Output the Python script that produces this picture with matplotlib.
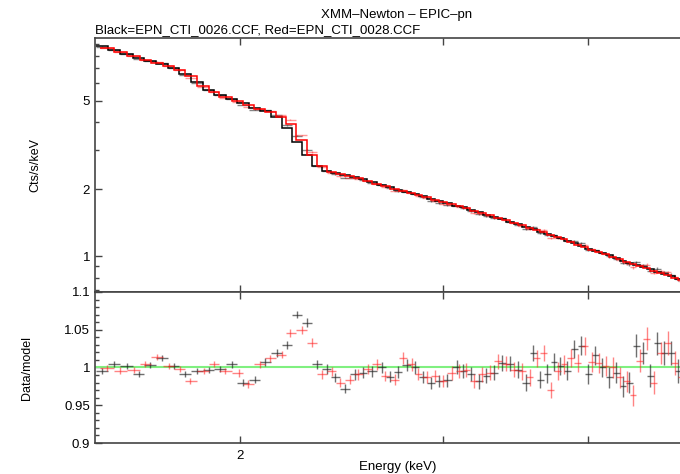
#! /usr/bin/env python3

## Libraries
import numpy as np
import matplotlib
matplotlib.use("Agg")
import matplotlib.pyplot as plt

plt.rcParams['font.family'] = ['Liberation Sans', 'DejaVu Sans']

#-----------------------------------------------------------------------
## Data
# Black = EPN_CTI_0026.CCF : bin centres (keV), model (cts/s/keV), data/model, error
black_e = [1.521, 1.558, 1.598, 1.637, 1.673, 1.714, 1.755, 1.794, 1.837, 1.881, 1.923, 1.969,
           2.013, 2.061, 2.103, 2.154, 2.197, 2.241, 2.286, 2.332, 2.379, 2.417, 2.465,
           2.515, 2.555, 2.601, 2.654, 2.696, 2.739, 2.789, 2.833, 2.879, 2.930, 2.977,
           3.025, 3.080, 3.117, 3.173, 3.218, 3.269, 3.321, 3.375, 3.429, 3.484,
           3.540, 3.589, 3.639, 3.690, 3.742, 3.787, 3.840, 3.893, 3.948,
           4.003, 4.060, 4.117, 4.174, 4.233, 4.292, 4.344, 4.405, 4.467,
           4.529, 4.593, 4.657, 4.722, 4.787, 4.854, 4.922]
black_model = [8.83, 8.47, 8.13, 7.79, 7.56, 7.33, 7.03, 6.61, 6.08, 5.59, 5.31, 5.10,
               4.89, 4.64, 4.50, 4.23, 3.77, 3.26, 2.85, 2.54, 2.41, 2.37, 2.32,
               2.27, 2.22, 2.15, 2.09, 2.05, 1.98, 1.94, 1.90, 1.86, 1.81, 1.77,
               1.73, 1.68, 1.66, 1.61, 1.58, 1.53, 1.50, 1.47, 1.42, 1.39,
               1.35, 1.32, 1.29, 1.26, 1.23, 1.20, 1.17, 1.14, 1.11,
               1.08, 1.05, 1.03, 1.01, 0.98, 0.955, 0.935, 0.91, 0.89,
               0.87, 0.85, 0.83, 0.81, 0.79, 0.77, 0.75]
black_ratio = [0.995, 1.005, 1.002, 0.992, 1.003, 1.013, 1.002, 0.991, 0.995, 0.997, 0.998, 1.004,
               0.980, 0.984, 1.007, 1.019, 1.030, 1.070, 1.059, 1.004, 0.998, 0.987, 0.972,
               0.991, 0.993, 0.995, 1.000, 0.988, 0.994, 1.003, 1.000, 0.988, 0.980, 0.982,
               0.983, 1.001, 0.995, 0.991, 0.982, 0.989, 0.993, 1.006, 1.005, 0.997,
               0.980, 1.019, 0.984, 0.992, 1.007, 1.002, 0.996, 1.024, 1.029,
               0.991, 1.016, 1.000, 0.987, 0.993, 0.975, 0.980, 1.029, 1.019,
               0.989, 1.032, 1.019, 1.019, 0.995, 1.010, 0.990]
black_err = [0.004, 0.004, 0.004, 0.004, 0.004, 0.004, 0.004, 0.004, 0.004, 0.004, 0.004, 0.005,
             0.005, 0.005, 0.005, 0.005, 0.005, 0.005, 0.006, 0.006, 0.006, 0.006, 0.006,
             0.007, 0.007, 0.007, 0.007, 0.007, 0.008, 0.008, 0.008, 0.008, 0.008, 0.008,
             0.009, 0.009, 0.009, 0.009, 0.010, 0.010, 0.010, 0.010, 0.010, 0.011,
             0.011, 0.011, 0.011, 0.012, 0.012, 0.012, 0.012, 0.012, 0.013,
             0.013, 0.013, 0.013, 0.014, 0.014, 0.014, 0.014, 0.015, 0.015,
             0.015, 0.015, 0.016, 0.016, 0.016, 0.017, 0.017]

# Red = EPN_CTI_0028.CCF
red_e = [1.536, 1.577, 1.621, 1.657, 1.697, 1.738, 1.776, 1.812, 1.863, 1.900, 1.942, 1.997,
         2.033, 2.082, 2.124, 2.175, 2.210, 2.263, 2.309, 2.355, 2.402, 2.441, 2.490,
         2.530, 2.581, 2.627, 2.670, 2.723, 2.767, 2.817, 2.850, 2.902, 2.948, 2.996,
         3.050, 3.098, 3.141, 3.192, 3.243, 3.295, 3.348, 3.402, 3.456,
         3.512, 3.564, 3.614, 3.665, 3.716, 3.768, 3.813, 3.867, 3.921, 3.976,
         4.031, 4.088, 4.145, 4.203, 4.262, 4.321, 4.373, 4.434, 4.496,
         4.559, 4.623, 4.688, 4.753, 4.820, 4.887, 4.956]
red_model = [8.65, 8.30, 7.96, 7.64, 7.40, 7.18, 6.89, 6.47, 5.83, 5.48, 5.20, 4.99,
             4.79, 4.59, 4.45, 4.23, 3.94, 3.33, 2.85, 2.54, 2.39, 2.34, 2.29,
             2.25, 2.18, 2.11, 2.07, 2.00, 1.96, 1.92, 1.88, 1.84, 1.79, 1.75,
             1.71, 1.68, 1.65, 1.59, 1.56, 1.53, 1.48, 1.45, 1.41,
             1.38, 1.34, 1.31, 1.28, 1.245, 1.215, 1.19, 1.155, 1.125, 1.095,
             1.065, 1.04, 1.02, 0.995, 0.97, 0.945, 0.925, 0.90, 0.88,
             0.86, 0.84, 0.82, 0.80, 0.78, 0.76, 0.74]
red_ratio = [0.999, 0.996, 0.997, 1.004, 1.014, 1.002, 0.998, 0.982, 0.995, 1.004, 0.995, 0.993,
             0.978, 1.004, 1.012, 1.017, 1.046, 1.050, 1.033, 0.991, 0.995, 0.980, 0.984,
             0.991, 0.998, 1.004, 0.989, 0.984, 1.012, 1.004, 0.991, 0.988, 0.989, 0.982,
             0.993, 0.995, 0.997, 0.982, 0.991, 0.993, 1.008, 1.005, 0.997,
             0.995, 0.987, 1.012, 1.019, 0.970, 0.995, 1.004, 1.013, 1.006, 1.028,
             1.007, 1.006, 1.002, 1.000, 0.987, 0.982, 0.963, 1.009, 1.038,
             0.980, 1.019, 1.032, 1.006, 0.987, 1.000, 1.010]
red_err = [0.004, 0.004, 0.004, 0.004, 0.004, 0.004, 0.004, 0.004, 0.004, 0.004, 0.004, 0.005,
           0.005, 0.005, 0.005, 0.005, 0.005, 0.005, 0.006, 0.006, 0.006, 0.006, 0.006,
           0.007, 0.007, 0.007, 0.007, 0.007, 0.008, 0.008, 0.008, 0.008, 0.008, 0.008,
           0.009, 0.009, 0.009, 0.009, 0.010, 0.010, 0.010, 0.010, 0.010,
           0.011, 0.011, 0.011, 0.011, 0.011, 0.012, 0.012, 0.012, 0.012, 0.012,
           0.013, 0.013, 0.013, 0.014, 0.014, 0.014, 0.014, 0.015, 0.015,
           0.015, 0.015, 0.016, 0.016, 0.016, 0.017, 0.017]

x_ticks = [2, 3, 4]
x_labels = ['2', '', '']
top_ticks = [1, 2, 5]
top_minor = [0.7, 0.8, 0.9, 3, 4, 6, 7, 8, 9]
ratio_ticks = [0.9, 0.95, 1.0, 1.05, 1.1]
ratio_labels = ['0.9', '0.95', '1', '1.05', '1.1']

#-----------------------------------------------------------------------
## Functions
def edges(e):
	'''
	list -> array
	
	Bin edges from bin centres (half-way between neighbours).
	'''
	e = np.asarray(e)
	mid = (e[:-1] + e[1:]) / 2
	return np.concatenate([[e[0] - (mid[0] - e[0])], mid, [e[-1] + (e[-1] - mid[-1])]])

def style(ax):
	for s in ax.spines.values():
		s.set_color('#444444')
		s.set_linewidth(1.2)
	ax.spines['right'].set_visible(False)
	ax.set_xscale('log')
	ax.set_xlim(1.5, 5.0)
	ax.set_xticks(x_ticks, labels=x_labels)
	ax.xaxis.set_minor_locator(plt.NullLocator())
	ax.tick_params(which='both', direction='in', top=True, right=False,
	               colors='#444444', labelcolor='black', labelsize=9.5)
	ax.tick_params(which='major', length=5, width=1)
	ax.tick_params(which='minor', length=3, width=1)

#-----------------------------------------------------------------------
## Plot
fig = plt.figure(figsize=(6.8, 4.74), dpi=100)
ax1 = fig.add_axes([0.1397, 0.3840, 0.8897, 0.5358])
ax2 = fig.add_axes([0.1397, 0.0654, 0.8897, 0.3186])

for e, mod, rat, err, col, dcol, da in [(black_e, black_model, black_ratio, black_err, 'black', '#222222', 0.55),
                                        (red_e, red_model, red_ratio, red_err, 'red', '#ff2020', 0.45)]:
	e = np.asarray(e)
	mod = np.asarray(mod)
	rat = np.asarray(rat)
	err = np.asarray(err)
	be = edges(e)
	xerr = [e - be[:-1], be[1:] - e]

	# spectrum: data crosses + model histogram
	ax1.errorbar(e, mod * rat, xerr=xerr, yerr=mod * err, fmt='none',
	             ecolor=dcol, alpha=da, elinewidth=1.0, zorder=2)
	ax1.stairs(mod, be, baseline=None, color=col, linewidth=1.1, zorder=3)

	# residuals
	ax2.errorbar(e, rat, xerr=xerr, yerr=err, fmt='none',
	             ecolor=dcol, alpha=da + 0.1, elinewidth=1.0, zorder=3)

ax2.axhline(1.0, color='#80f080', linewidth=1.5, zorder=2)

style(ax1)
ax1.set_yscale('log')
ax1.set_ylim(0.689, 9.6)
ax1.set_yticks(top_ticks, labels=['1', '2', '5'])
ax1.set_yticks(top_minor, minor=True, labels=[''] * len(top_minor))
ax1.tick_params(axis='x', labelbottom=False)

style(ax2)
ax2.set_ylim(0.9, 1.1)
ax2.set_yticks(ratio_ticks, labels=ratio_labels)
ax2.set_yticks(np.arange(0.9, 1.1001, 0.01), minor=True)
ax2.tick_params(axis='x', pad=5)

# titles and axis labels
fig.text(397/680, 1 - 15/474, 'XMM\u2013Newton \u2013 EPIC\u2013pn', ha='center', va='center', fontsize=9.5)
fig.text(95/680, 1 - 30/474, 'Black=EPN_CTI_0026.CCF, Red=EPN_CTI_0028.CCF', ha='left', va='center', fontsize=9.5)
fig.text(35/680, 1 - 165/474, 'Cts/s/keV', rotation=90, ha='center', va='center', fontsize=9)
fig.text(27/680, 1 - 368/474, 'Data/model', rotation=90, ha='center', va='center', fontsize=9)
fig.text(398/680, 1 - 467/474, 'Energy (keV)', ha='center', va='center', fontsize=9.5)

plt.savefig('out.png', dpi=100)
